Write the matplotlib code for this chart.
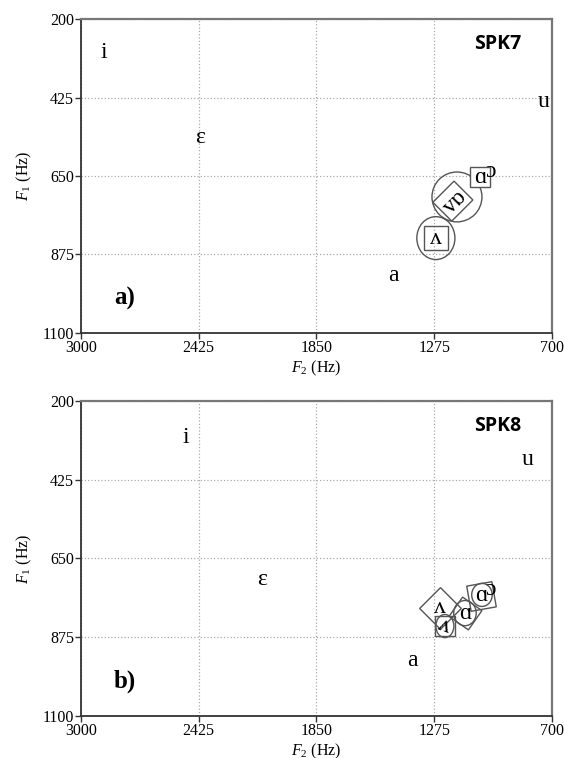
import numpy as np
import matplotlib
matplotlib.use('Agg')
import matplotlib.pyplot as plt
from matplotlib.patches import Ellipse

plt.rcParams['font.family'] = ['Liberation Serif', 'DejaVu Serif']
plt.rcParams['mathtext.fontset'] = 'custom'
plt.rcParams['mathtext.rm'] = 'Liberation Serif'
plt.rcParams['mathtext.it'] = 'Liberation Serif:italic'

f2Ticks = [3000, 2425, 1850, 1275, 700]
f1Ticks = [200, 425, 650, 875, 1100]

# ---- SPK7 ----
# plain vowel labels
vowA = ['i', 'ɛ', 'u', 'a', 'ɔ']
f2A = [2888, 2419, 739, 1476, 998]
f1A = [297, 541, 435, 934, 638]
# boxed vowels
boxVowA = ['ɑ', 'ʌ']
boxF2A = [1052, 1267]
boxF1A = [653, 828]
# second token pair (drawn rotated)
pairA = 'ɑʌ'
pairF2A = 1184
pairF1A = 722
# dispersion ellipses (Hz)
ellF2A = [1164, 1267]
ellF1A = [710, 828]
ellW_A = [244, 186]
ellH_A = [143, 123]

# ---- SPK8 ----
vowB = ['i', 'ɛ', 'u', 'a', 'ɔ']
f2B = [2487, 2116, 817, 1384, 1000]
f1B = [303, 709, 366, 940, 740]
boxVowB = ['ʌ', 'ʌ', 'ɑ', 'ɑ']
boxF2B = [1247, 1223, 1125, 1045]
boxF1B = [791, 843, 806, 756]
ellF2B = [1223, 1125, 1042]
ellF1B = [843, 806, 754]
ellW_B = [88, 110, 100]
ellH_B = [66, 72, 66]

boxEdge = '#555555'


def setupAxes(ax, tag, spk):
    ax.set_xlim(3000, 700)
    ax.set_ylim(1100, 200)
    ax.set_xticks(f2Ticks)
    ax.set_yticks(f1Ticks)
    ax.tick_params(direction='out', length=4, width=1, color='#333333',
                   labelsize=11.5, pad=1)
    ax.grid(True, linestyle=':', color='#aaaaaa', linewidth=0.9)
    ax.set_axisbelow(True)
    for s in ['left', 'bottom']:
        ax.spines[s].set_color('#333333')
        ax.spines[s].set_linewidth(1.3)
    for s in ['top', 'right']:
        ax.spines[s].set_color('#777777')
        ax.spines[s].set_linewidth(1.6)
    ax.set_xlabel(r'$F_2$ (Hz)', fontsize=11.5, labelpad=2)
    ax.set_ylabel(r'$F_1$ (Hz)', fontsize=11.5, labelpad=6)
    ax.text(0.07, 0.11, tag, transform=ax.transAxes, fontsize=18,
            fontweight='bold', ha='left', va='center')
    ax.text(0.935, 0.92, spk, transform=ax.transAxes, fontsize=14,
            fontweight='bold', family='Open Sans', ha='right', va='center')


fig = plt.figure(figsize=(5.64, 7.58), dpi=100)
ax1 = fig.add_axes([0.1436, 0.5607, 0.8351, 0.4142])
ax2 = fig.add_axes([0.1436, 0.0554, 0.8351, 0.4156])

# panel a
setupAxes(ax1, 'a)', 'SPK7')
for v, x, y in zip(vowA, f2A, f1A):
    ax1.text(x, y, v, fontsize=17, ha='center', va='center')
for x, y, w, h in zip(ellF2A, ellF1A, ellW_A, ellH_A):
    ax1.add_patch(Ellipse((x, y), w, h, fill=False, ec=boxEdge, lw=1))
ax1.plot(boxF2A[0], boxF1A[0], marker=(4, 0, 45), ms=21, mfc='white',
         mec=boxEdge, mew=1)
ax1.plot(boxF2A[1], boxF1A[1], marker=(4, 0, 45), ms=24, mfc='none',
         mec=boxEdge, mew=1)
for v, x, y in zip(boxVowA, boxF2A, boxF1A):
    ax1.text(x, y, v, fontsize=17, ha='center', va='center')
ax1.text(pairF2A, pairF1A, pairA, fontsize=17, rotation=225,
         ha='center', va='center',
         bbox=dict(boxstyle='square,pad=0.12', fc='none', ec=boxEdge, lw=1))

# panel b
setupAxes(ax2, 'b)', 'SPK8')
for v, x, y in zip(vowB, f2B, f1B):
    ax2.text(x, y, v, fontsize=17, ha='center', va='center')
for x, y, w, h in zip(ellF2B, ellF1B, ellW_B, ellH_B):
    ax2.add_patch(Ellipse((x, y), w, h, fill=False, ec=boxEdge, lw=1))
ax2.plot(boxF2B[0], boxF1B[0], marker=(4, 0, 0), ms=30, mfc='none',
         mec=boxEdge, mew=1)
ax2.plot(boxF2B[1], boxF1B[1], marker=(4, 0, 45), ms=21, mfc='none',
         mec=boxEdge, mew=1)
ax2.plot(boxF2B[2], boxF1B[2], marker=(4, 0, 10), ms=24, mfc='none',
         mec=boxEdge, mew=1)
ax2.plot(boxF2B[3], boxF1B[3], marker=(4, 0, 55), ms=26, mfc='none',
         mec=boxEdge, mew=1)
rots = [0, -20, 0, 0]
for v, x, y, r in zip(boxVowB, boxF2B, boxF1B, rots):
    ax2.text(x, y, v, fontsize=17, ha='center', va='center', rotation=r)

fig.savefig('out.png', dpi=100)
